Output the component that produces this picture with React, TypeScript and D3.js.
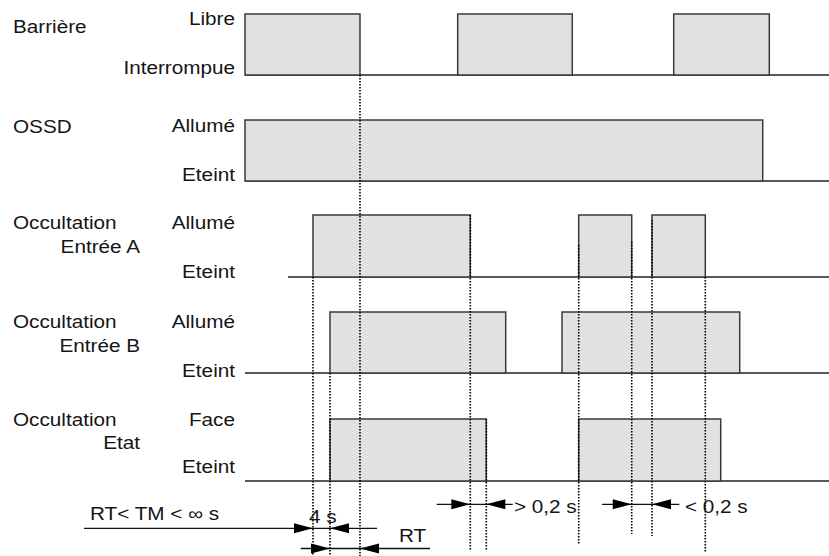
import React from "react";
import * as d3 from "d3";

// ---------- data (time in arbitrary units, 0..100) ----------
const rowNames = ["Barrière", "OSSD", "Occultation", "Occultation", "Occultation"];
const rowSubNames = ["", "", "Entrée A", "Entrée B", "Etat"];
const highLabels = ["Libre", "Allumé", "Allumé", "Allumé", "Face"];
const lowLabels = ["Interrompue", "Eteint", "Eteint", "Eteint", "Eteint"];

const barrierePulses: [number, number][] = [[0, 19.69], [36.42, 56.04], [73.41, 89.78]];
const ossdPulses: [number, number][] = [[0, 88.65]];
const entreeAPulses: [number, number][] = [[11.64, 38.58], [57.14, 66.22], [69.69, 78.82]];
const entreeBPulses: [number, number][] = [[14.55, 44.64], [54.28, 84.71]];
const etatPulses: [number, number][] = [[14.55, 41.32], [57.14, 81.46]];
const signals = [barrierePulses, ossdPulses, entreeAPulses, entreeBPulses, etatPulses];
const baselineStart = [0, 0, 7.36, 0, 0];
const baselineEnd = 100;

const markerTimes = [19.69, 11.64, 14.55, 38.58, 41.32, 57.14, 66.22, 69.69, 78.82];

const annotationTips: [number, number][] = [[11.64, 14.55], [14.55, 19.69], [38.58, 41.32], [66.22, 69.69]];
const annotationSpans: [number, number][] = [[-27.57, 22.6], [9.54, 31.68], [32.83, 45.84], [61.13, 74.37]];
const annotationLabels = ["4 s", "RT", "> 0,2 s", "< 0,2 s"];
const leftNote = "RT< TM < ∞ s";

// ---------- layout ----------
const W = 829;
const H = 556;
const ROW_HIGH = [14, 120, 215, 312, 419];
const ROW_LOW = [75, 181, 277, 373, 481];
const NAME_BASE = [33, 133, 229, 327.5, 426];
const SUB_BASE = [0, 0, 253, 351.5, 449];
const HIGH_BASE = [24.5, 132, 229, 327.5, 426];
const LOW_BASE = [74, 181, 278, 376.5, 473];
const MARKER_Y: [number, number][] = [
  [75, 556], [277, 556], [373, 556], [215, 550], [419, 550],
  [245, 545], [242, 534], [220, 536], [277, 553],
];
const ANN_Y = [528.3, 548.5, 504.3, 504.3];
const ANN_LABEL_POS: [number, number][] = [[309, 523], [399, 541.7], [514, 513], [685, 513]];
const LEFT_NOTE_POS: [number, number] = [90, 520];

const FONT = "'Liberation Sans', Arial, Helvetica, sans-serif";
const FS = 18.5;
const SX = 1.12;
const TEXT = "#151515";

const T: React.FC<{ x: number; y: number; anchor?: "start" | "end"; children: React.ReactNode }> = ({ x, y, anchor = "start", children }) => (
  <text
    transform={`translate(${x},${y}) scale(${SX},1)`}
    textAnchor={anchor}
    fontFamily={FONT}
    fontSize={FS}
    fill={TEXT}
  >
    {children}
  </text>
);

export default function App() {
  const x = d3.scaleLinear().domain([0, 100]).range([245, 829]);

  const arrowHead = (tip: number, y: number, dir: 1 | -1) => {
    const len = 19;
    const half = 5;
    const p = d3.path();
    p.moveTo(tip, y);
    p.lineTo(tip - dir * len, y - half);
    p.lineTo(tip - dir * len, y + half);
    p.closePath();
    return p.toString();
  };

  return (
    <svg width={W} height={H} style={{ position: "absolute", left: 0, top: 0, background: "#fff" }}>
      {/* signals */}
      {signals.map((pulses, i) => (
        <g key={i}>
          <line
            x1={x(baselineStart[i])}
            x2={x(baselineEnd)}
            y1={ROW_LOW[i]}
            y2={ROW_LOW[i]}
            stroke="#222"
            strokeWidth={1.3}
          />
          {pulses.map(([a, b], j) => (
            <rect
              key={j}
              x={x(a)}
              y={ROW_HIGH[i]}
              width={x(b) - x(a)}
              height={ROW_LOW[i] - ROW_HIGH[i]}
              fill="#e0e1e3"
              stroke="#3a3a3a"
              strokeWidth={1.5}
            />
          ))}
        </g>
      ))}

      {/* dotted markers */}
      {markerTimes.map((t, i) => (
        <line
          key={i}
          x1={x(t)}
          x2={x(t)}
          y1={MARKER_Y[i][0]}
          y2={MARKER_Y[i][1]}
          stroke="#000"
          strokeWidth={1.6}
          strokeDasharray="1.5,1.5"
        />
      ))}

      {/* labels */}
      {rowNames.map((n, i) => (
        <g key={i}>
          <T x={13} y={NAME_BASE[i]}>{n}</T>
          {rowSubNames[i] && (
            <T x={140} y={SUB_BASE[i]} anchor="end">{rowSubNames[i]}</T>
          )}
          <T x={235} y={HIGH_BASE[i]} anchor="end">{highLabels[i]}</T>
          <T x={235} y={LOW_BASE[i]} anchor="end">{lowLabels[i]}</T>
        </g>
      ))}

      {/* annotations */}
      {annotationTips.map(([a, b], i) => (
        <g key={i}>
          <line
            x1={x(annotationSpans[i][0])}
            x2={x(annotationSpans[i][1])}
            y1={ANN_Y[i]}
            y2={ANN_Y[i]}
            stroke="#111"
            strokeWidth={1.3}
          />
          <path d={arrowHead(x(a), ANN_Y[i], 1)} fill="#000" />
          <path d={arrowHead(x(b), ANN_Y[i], -1)} fill="#000" />
          <T x={ANN_LABEL_POS[i][0]} y={ANN_LABEL_POS[i][1]}>{annotationLabels[i]}</T>
        </g>
      ))}
      <T x={LEFT_NOTE_POS[0]} y={LEFT_NOTE_POS[1]}>{leftNote}</T>
    </svg>
  );
}
